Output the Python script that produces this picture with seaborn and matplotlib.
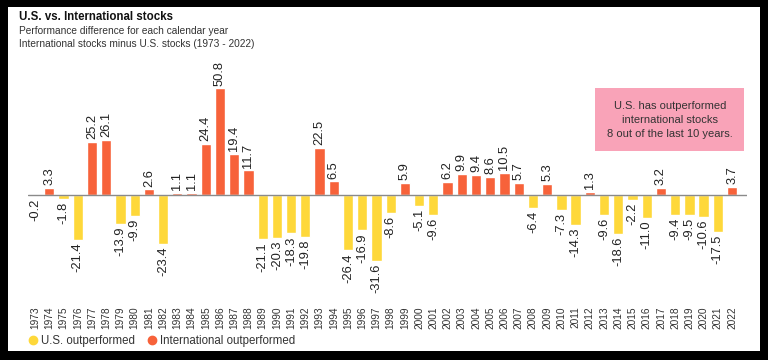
import pandas as pd
import matplotlib.pyplot as plt
import seaborn as sns
from matplotlib.patches import Rectangle
from matplotlib.lines import Line2D

years = list(range(1973, 2023))
diff = [-0.2, 3.3, -1.8, -21.4, 25.2, 26.1, -13.9, -9.9, 2.6, -23.4,
        1.1, 1.1, 24.4, 50.8, 19.4, 11.7, -21.1, -20.3, -18.3, -19.8,
        22.5, 6.5, -26.4, -16.9, -31.6, -8.6, 5.9, -5.1, -9.6, 6.2,
        9.9, 9.4, 8.6, 10.5, 5.7, -6.4, 5.3, -7.3, -14.3, 1.3,
        -9.6, -18.6, -2.2, -11.0, 3.2, -9.4, -9.5, -10.6, -17.5, 3.7]
us_label = "U.S. outperformed"
intl_label = "International outperformed"
yellow = "#FED83A"
orange = "#F7623A"

df = pd.DataFrame({"year": [str(y) for y in years], "diff": diff})
df["winner"] = [intl_label if d > 0 else us_label for d in diff]

sns.set_style("white")
plt.rcParams["font.family"] = ["Liberation Sans", "DejaVu Sans"]

fig = plt.figure(figsize=(7.68, 3.6), dpi=100, facecolor="black")
W, H = 768, 360
# white card inside black frame
fig.patches.append(Rectangle((8 / W, 1 - 351 / H), (760 - 8) / W, (351 - 7) / H,
                             transform=fig.transFigure, facecolor="white",
                             edgecolor="none", zorder=-10))

# callout box
fig.patches.append(Rectangle((595 / W, 1 - 151 / H), (744 - 595) / W, (151 - 88) / H,
                             transform=fig.transFigure, facecolor="#F9A3B8",
                             edgecolor="none", zorder=-5))

ax = fig.add_axes([28 / W, 1 - 302 / H, (747 - 28) / W, (302 - 40) / H])
ax.set_facecolor("none")
ax.set_zorder(2)

sns.barplot(data=df, x="year", y="diff", hue="winner",
            palette={us_label: yellow, intl_label: orange}, saturation=1,
            dodge=False, width=0.72, legend=False, ax=ax, zorder=2)

ax.axhline(0, color="#8a8a8a", lw=1, zorder=3)
ax.set_xlim(-0.5, 50.05)
ax.set_ylim(-51, 73.8)

for i, d in enumerate(diff):
    if d > 0:
        ax.annotate(f"{d:.1f}", (i, d), xytext=(0, 2), textcoords="offset points",
                    rotation=90, ha="center", va="bottom", fontsize=9.3, color="#222222")
    else:
        ax.annotate(f"{d:.1f}", (i, d), xytext=(0, -2), textcoords="offset points",
                    rotation=90, ha="center", va="top", fontsize=9.3, color="#222222")

ax.set_xlabel("")
ax.set_ylabel("")
ax.set_yticks([])
ax.tick_params(axis="x", length=0, pad=3, labelsize=7.3, labelcolor="#333333")
plt.setp(ax.get_xticklabels(), rotation=90)
for s in ax.spines.values():
    s.set_visible(False)

# titles
fig.text(19 / W, 1 - 17 / H, "U.S. vs. International stocks", fontsize=8.3,
         fontweight="bold", va="center", ha="left", color="#111111")
fig.text(19 / W, 1 - 31 / H, "Performance difference for each calendar year",
         fontsize=7.3, va="center", ha="left", color="#333333")
fig.text(19 / W, 1 - 44 / H, "International stocks minus U.S. stocks (1973 - 2022)",
         fontsize=7.3, va="center", ha="left", color="#333333")

fig.text(670 / W, 1 - 120 / H,
         "U.S. has outperformed\ninternational stocks\n8 out of the last 10 years.",
         ha="center", va="center", fontsize=8, color="#333333", linespacing=1.5)

handles = [Line2D([], [], marker="o", ls="none", color=yellow, markersize=6),
           Line2D([], [], marker="o", ls="none", color=orange, markersize=6)]
fig.legend(handles, [us_label, intl_label], loc="center left",
           bbox_to_anchor=(16 / W, 1 - 341 / H), ncol=2, frameon=False,
           fontsize=8.3, handletextpad=0.1, columnspacing=0.8, handlelength=1.2,
           labelcolor="#333333")

fig.savefig("out.png", dpi=100, facecolor="black")
